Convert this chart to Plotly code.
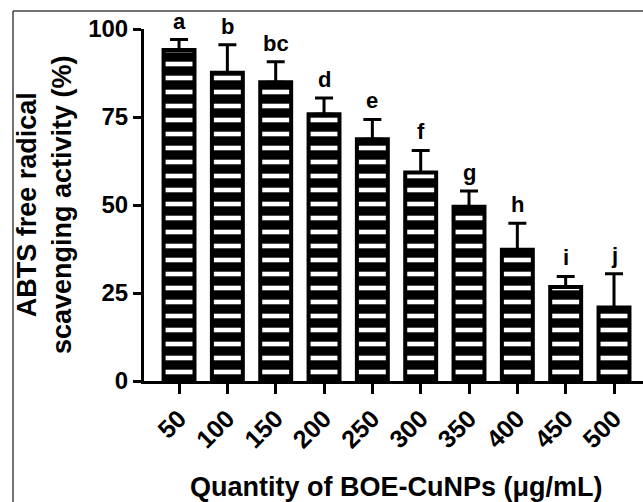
import plotly.graph_objects as go

categories = ["50", "100", "150", "200", "250", "300", "350", "400", "450", "500"]
means = [94.0, 87.6, 84.9, 75.8, 68.7, 59.2, 49.5, 37.3, 26.7, 20.9]
sds = [3.0, 7.9, 5.8, 4.6, 5.6, 6.3, 4.5, 7.5, 3.0, 9.6]
letters = ["a", "b", "bc", "d", "e", "f", "g", "h", "i", "j"]
y_ticks = [0, 25, 50, 75, 100]

FONT = "Liberation Sans, Arial, sans-serif"
W, H = 643, 502
ML, MR, MT, MB = 144, 0, 29, 121
pw = W - ML - MR
ph = H - MT - MB

fig = go.Figure()
fig.add_trace(go.Bar(
    x=categories, y=means, width=0.64,
    marker=dict(
        color="black",
        line=dict(color="black", width=4),
        pattern=dict(shape="-", fgcolor="white", bgcolor="black", size=14, solidity=0.33, fillmode="replace"),
    ),
    error_y=dict(type="data", array=sds, arrayminus=[0] * len(sds), symmetric=False,
                 color="black", thickness=3, width=9),
    cliponaxis=False,
    showlegend=False,
))

for i, (m, s, t) in enumerate(zip(means, sds, letters)):
    fig.add_annotation(x=i, y=m + s, text=t, showarrow=False, yanchor="bottom", yshift=4,
                       font=dict(family=FONT, size=22, color="black", weight="bold"))

fig.add_annotation(xref="paper", yref="paper", x=(44 - ML) / pw, y=(H - MB - 205) / ph,
                   text="ABTS free radical<br>scavenging activity (%)", textangle=-90,
                   showarrow=False, xanchor="center", yanchor="middle",
                   font=dict(family=FONT, size=27, color="black", weight="bold"))
fig.add_annotation(xref="paper", yref="paper", x=(396 - ML) / pw, y=(H - MB - 487) / ph,
                   text="Quantity of BOE-CuNPs (μg/mL)", showarrow=False,
                   xanchor="center", yanchor="middle",
                   font=dict(family=FONT, size=27, color="black", weight="bold"))

# picture frame
fig.add_shape(type="line", xref="paper", yref="paper", x0=(13 - ML) / pw, x1=(13 - ML) / pw,
              y0=(H - MB - 502) / ph, y1=(H - MB - 11) / ph, line=dict(color="#444", width=1.5))
fig.add_shape(type="line", xref="paper", yref="paper", x0=(13 - ML) / pw, x1=1.05,
              y0=(H - MB - 11) / ph, y1=(H - MB - 11) / ph, line=dict(color="#444", width=1.5))

fig.update_layout(
    width=W, height=H,
    margin=dict(l=ML, r=MR, t=MT, b=MB),
    paper_bgcolor="white", plot_bgcolor="white",
    bargap=0.36,
    xaxis=dict(type="category", range=[-0.725, 9.6], showline=True, linecolor="black", linewidth=3,
               ticks="outside", ticklen=10, tickwidth=3, tickcolor="black", tickangle=-45,
               tickfont=dict(family=FONT, size=25, color="black", weight="bold"),
               showgrid=False, zeroline=False),
    yaxis=dict(range=[0, 100], tickvals=y_ticks, showline=True, linecolor="black", linewidth=3,
               ticks="outside", ticklen=8, tickwidth=3, tickcolor="black",
               tickfont=dict(family=FONT, size=24, color="black", weight="bold"),
               showgrid=False, zeroline=False),
)

fig.write_html("out.html")
